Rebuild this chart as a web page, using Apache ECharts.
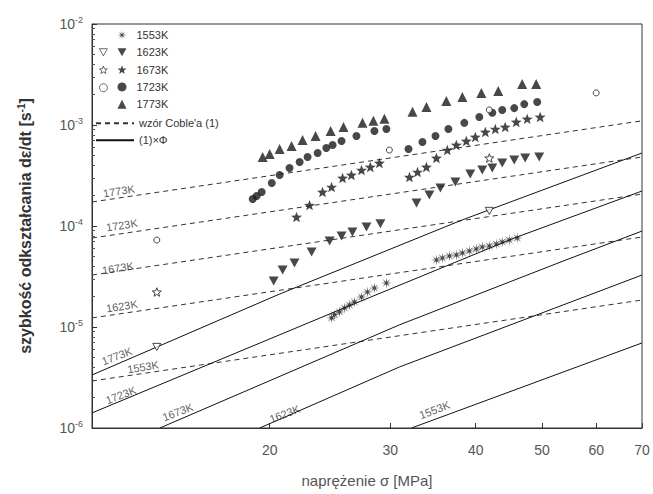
<!DOCTYPE html>
<html><head><meta charset="utf-8">
<script src="https://cdn.jsdelivr.net/npm/echarts@6/dist/echarts.min.js"></script>
<style>html,body{margin:0;padding:0;background:#fff}#c{width:653px;height:494px}</style>
</head><body><div id="c"></div>
<script>
// ---- axis ticks ----
const xTicks = [20, 30, 40, 50, 60, 70];
const yTicks = [1e-6, 1e-5, 1e-4, 1e-3, 1e-2];

// ---- measured points [stress MPa, strain rate 1/s] ----
const s1553 = [[24.63,1.23e-5],[24.88,1.32e-5],[25.30,1.41e-5],[25.73,1.54e-5],[26.16,1.65e-5],[26.60,1.77e-5],[27.24,1.98e-5],[27.79,2.22e-5],[28.45,2.43e-5],[29.62,2.73e-5],
  [35.05,4.61e-5],[35.76,4.82e-5],[36.61,5.05e-5],[37.48,5.16e-5],[38.25,5.41e-5],[39.15,5.66e-5],[40.08,5.92e-5],[40.90,6.19e-5],[41.88,6.34e-5],[42.87,6.63e-5],[43.74,6.95e-5],[44.78,7.26e-5],[46.00,7.60e-5]];
const f1623 = [[20.27,2.85e-5],[20.89,3.67e-5],[21.74,4.30e-5],[23.03,5.53e-5],[24.47,7.10e-5],[25.47,7.96e-5],[26.42,8.73e-5],[27.70,9.77e-5],[29.03,1.05e-4],
  [32.78,1.69e-4],[34.23,2.03e-4],[35.52,2.38e-4],[37.36,2.73e-4],[39.28,3.27e-4],[40.90,3.58e-4],[42.30,3.75e-4],[43.74,4.21e-4],[45.54,4.50e-4],[47.25,4.71e-4],[49.53,4.82e-4]];
const o1623 = [[13.68,6.34e-6],[41.88,1.41e-4]];
const f1673 = [[21.89,1.23e-4],[22.87,1.61e-4],[23.89,2.17e-4],[24.63,2.43e-4],[25.56,2.99e-4],[26.33,3.20e-4],[27.24,3.58e-4],[28.06,3.84e-4],[28.93,4.21e-4],
  [32.01,3.05e-4],[32.89,3.42e-4],[33.89,3.84e-4],[35.05,4.71e-4],[36.36,5.65e-4],[37.48,6.34e-4],[38.76,6.95e-4],[39.95,7.61e-4],[41.32,8.53e-4],[42.73,9.12e-4],[44.18,9.55e-4],[45.85,1.07e-3],[47.57,1.15e-3],[49.69,1.20e-3]];
const o1673 = [[13.68,2.22e-5],[41.88,4.71e-4]];
const f1723 = [[18.89,1.85e-4],[19.14,1.98e-4],[19.47,2.17e-4],[20.14,2.67e-4],[20.68,3.20e-4],[21.38,3.75e-4],[22.12,4.30e-4],[22.72,4.82e-4],[23.50,5.28e-4],[24.20,5.92e-4],[24.72,6.34e-4],[25.47,6.95e-4],[26.78,7.78e-4],[28.45,8.72e-4],[29.62,9.12e-4],
  [31.91,5.78e-4],[33.44,6.79e-4],[34.94,7.78e-4],[36.49,9.12e-4],[38.50,1.05e-3],[40.49,1.20e-3],[42.30,1.32e-3],[43.74,1.41e-3],[45.54,1.47e-3],[47.10,1.61e-3],[49.20,1.69e-3]];
const o1723 = [[13.68,7.26e-5],[29.92,5.65e-4],[41.88,1.41e-3],[60.0,2.08e-3]];
const f1773 = [[19.53,4.82e-4],[20.00,5.16e-4],[20.68,5.78e-4],[21.53,6.19e-4],[22.34,7.10e-4],[23.34,7.78e-4],[24.55,8.72e-4],[25.64,9.55e-4],[27.33,1.05e-3],[28.35,1.10e-3],[29.42,1.15e-3],
  [32.34,1.35e-3],[33.89,1.51e-3],[36.24,1.73e-3],[38.25,1.89e-3],[40.77,2.08e-3],[43.16,2.17e-3],[46.78,2.55e-3],[49.03,2.55e-3]];

// ---- model lines: Coble formula (1), dashed ----
const coble1773 = [[11,1.73e-4],[70,1.10e-3]];
const coble1723 = [[11,7.60e-5],[70,4.82e-4]];
const coble1673 = [[11,3.27e-5],[70,2.07e-4]];
const coble1623 = [[11,1.23e-5],[70,7.78e-5]];
const coble1553 = [[11,2.92e-6],[70,1.85e-5]];
// ---- (1) x Phi, solid ----
const phi1773 = [[11,3.35e-6],[20.68,2.12e-5],[38.25,1.15e-4],[70,5.28e-4]];
const phi1723 = [[11,1.41e-6],[24.88,1.41e-5],[45.54,7.60e-5],[70,2.22e-4]];
const phi1673 = [[13.82,1e-6],[30.95,1.05e-5],[54.2,4.61e-5],[70,8.91e-5]];
const phi1623 = [[19.34,1e-6],[30.95,4.02e-6],[70,3.27e-5]];
const phi1553 = [[32.23,1e-6],[70,6.95e-6]];

// ---- line label anchors [stress, rate, text] ----
const cobleLabels = [[12.04,2.22e-4,'1773K'],[12.16,1.02e-4,'1723K'],[12.0,3.84e-5,'1673K'],[12.16,1.61e-5,'1623K'],[13.06,4.02e-6,'1553K']];
const phiLabels = [[11.96,5.16e-6,'1773K'],[12.12,2.12e-6,'1723K'],[14.68,1.44e-6,'1673K'],[21.03,1.38e-6,'1623K'],[34.82,1.51e-6,'1553K']];

const FONT = '"Liberation Sans", Arial, sans-serif';
const INK = '#1a1a1a';
const ASTER = 'path://M20 10 L12.31 9.04 L17.07 2.93 L10.96 7.69 L10 0 L9.04 7.69 L2.93 2.93 L7.69 9.04 L0 10 L7.69 10.96 L2.93 17.07 L9.04 12.31 L10 20 L10.96 12.31 L17.07 17.07 L12.31 10.96 Z';
const STAR = 'path://M10 0 L7.53 6.6 L0.49 6.91 L6.01 11.3 L4.12 18.09 L10 14.2 L15.88 18.09 L13.99 11.3 L19.51 6.91 L12.47 6.6 Z';
const TRI_DOWN = 'path://M0 0 L20 0 L10 18 Z';

function scat(name, data, symbol, size, open) {
  return {
    name, type: 'scatter', data, symbol, symbolSize: size,
    symbolKeepAspect: true, z: 5,
    itemStyle: open ? {color: '#fff', borderColor: INK, borderWidth: 1} : {color: INK}
  };
}
function line(name, data, dashed) {
  return {
    name, type: 'line', data, symbol: 'none', z: 3, silent: true,
    lineStyle: {color: dashed ? '#333' : '#111', width: 1, type: dashed ? [5, 4] : 'solid'},
    itemStyle: {color: dashed ? '#333' : '#111'}
  };
}
function labels(arr, rot) {
  return {
    type: 'scatter', silent: true, symbolSize: 1, z: 6,
    itemStyle: {color: 'rgba(0,0,0,0)'},
    data: arr.map(a => ({value: [a[0], a[1]], name: a[2]})),
    label: {show: true, position: 'inside', formatter: '{b}', rotate: rot,
      fontSize: 11, color: '#333', fontFamily: FONT}
  };
}

const minor = [];
for (let d = -6; d <= -3; d++) for (let k = 2; k <= 9; k++) minor.push(k * Math.pow(10, d));

const COBLE = "wzór Coble'a (1)";
const PHI = '(1)×Φ';

const chart = echarts.init(document.getElementById('c'), null, {renderer: 'svg'});
chart.setOption({
  animation: false,
  backgroundColor: '#fff',
  textStyle: {fontFamily: FONT},
  grid: {left: 92, right: 11, top: 24, bottom: 66, show: true, borderColor: '#333', borderWidth: 1, backgroundColor: 'transparent'},
  legend: [
    {data: ['1553K','1623K','1673K','1723K','1773K'], orient: 'vertical', left: 117.5, top: 29,
     padding: 0, itemWidth: 9, itemHeight: 9, itemGap: 5.3, selectedMode: false,
     textStyle: {fontSize: 11, lineHeight: 12, color: '#333', fontFamily: FONT, padding: [0,0,0,5]}},
    {data: ['1623K o','1673K o','1723K o'], orient: 'vertical', left: 99, top: 48.3,
     padding: 0, itemWidth: 8, itemHeight: 8, itemGap: 9.3, selectedMode: false, formatter: () => '',
     itemStyle: {borderWidth: 0.8},
     textStyle: {fontSize: 8, lineHeight: 8}},
    {data: [COBLE, PHI], orient: 'vertical', left: 95, top: 117.3,
     padding: 0, itemWidth: 38, itemHeight: 11, itemGap: 5, selectedMode: false,
     itemStyle: {color: 'rgba(0,0,0,0)', borderWidth: 0, opacity: 0},
     textStyle: {fontSize: 11, lineHeight: 12, color: '#333', fontFamily: FONT}}
  ],
  xAxis: {
    type: 'log', logBase: 10, min: 11, max: 70,
    name: 'naprężenie σ [MPa]', nameLocation: 'middle', nameGap: 45,
    nameTextStyle: {fontSize: 15, color: '#555', fontFamily: FONT},
    axisLine: {lineStyle: {color: '#333', width: 1}},
    axisTick: {inside: true, length: 5, customValues: xTicks, lineStyle: {color: '#333'}},
    axisLabel: {customValues: xTicks, margin: 15, fontSize: 14, color: '#555', fontFamily: FONT,
      formatter: v => String(Math.round(v))},
    splitLine: {show: false}, minorTick: {show: false}
  },
  yAxis: [
    {
      type: 'log', logBase: 10, min: 1e-6, max: 1e-2,
      name: 'szybkość odkształcania dε/dt [s{s|-1}]', nameLocation: 'middle', nameGap: 57,
      nameTextStyle: {fontSize: 16, color: '#333', fontWeight: 'bold', fontFamily: FONT,
        rich: {s: {fontSize: 10, fontWeight: 'bold', color: '#333', fontFamily: FONT, padding: [0,0,9,0]}}},
      axisLine: {lineStyle: {color: '#333', width: 1}},
      axisTick: {inside: true, length: 5, customValues: yTicks, lineStyle: {color: '#333'}},
      axisLabel: {customValues: yTicks, margin: 9, color: '#555',
        formatter: v => '{b|10}{s|' + Math.round(Math.log10(v)) + '}',
        rich: {b: {fontSize: 14, color: '#555', fontFamily: FONT},
               s: {fontSize: 9, color: '#555', fontFamily: FONT, padding: [0,0,9,0]}}},
      splitLine: {show: false}
    },
    {
      type: 'log', logBase: 10, min: 1e-6, max: 1e-2, position: 'left',
      axisLine: {show: false}, axisLabel: {show: false}, splitLine: {show: false},
      axisTick: {show: true, inside: true, length: 3, customValues: minor, lineStyle: {color: '#555'}}
    }
  ],
  series: [
    line(COBLE, coble1773, true), line(COBLE, coble1723, true), line(COBLE, coble1673, true),
    line(COBLE, coble1623, true), line(COBLE, coble1553, true),
    line(PHI, phi1773, false), line(PHI, phi1723, false), line(PHI, phi1673, false),
    line(PHI, phi1623, false), line(PHI, phi1553, false),
    scat('1553K', s1553, ASTER, 11, false),
    scat('1623K', f1623, TRI_DOWN, 10, false),
    scat('1623K o', o1623, TRI_DOWN, 8, true),
    scat('1673K', f1673, STAR, 11, false),
    scat('1673K o', o1673, STAR, 9, true),
    scat('1723K', f1723, 'circle', 8, false),
    scat('1723K o', o1723, 'circle', 6, true),
    scat('1773K', f1773, 'triangle', 10, false),
    labels(cobleLabels, 9),
    labels(phiLabels, 21)
  ]
});
</script></body></html>
